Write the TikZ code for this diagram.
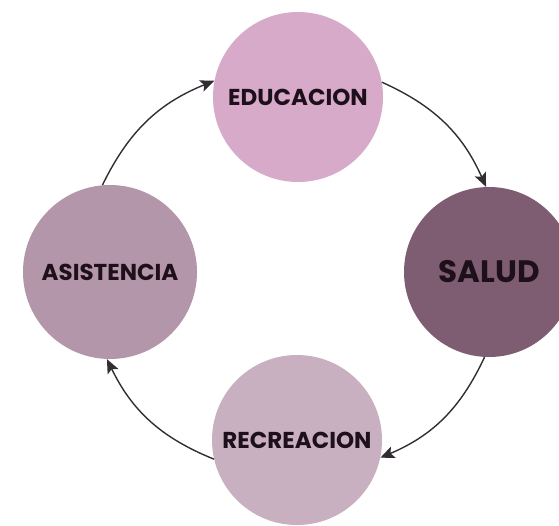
\documentclass[tikz,border=0pt]{standalone}
\usepackage{fontspec}
\setmainfont{Poppins}
\usetikzlibrary{arrows.meta}
\definecolor{cEdu}{RGB}{214,170,200}
\definecolor{cSal}{RGB}{126,92,114}
\definecolor{cAsi}{RGB}{180,150,170}
\definecolor{cRec}{RGB}{200,176,192}
\definecolor{cTxt}{RGB}{30,16,26}
\definecolor{cLine}{RGB}{50,45,50}
\tikzset{
  blob/.style={circle, draw=none, minimum size=170pt, inner sep=0pt,
    text=cTxt, font=\bfseries\fontsize{23}{26}\selectfont},
  arr/.style={draw=cLine, line width=1.4pt,
    -{Stealth[length=14pt,width=12pt,inset=3pt]}, bend left=21}
}
\begin{document}
\begin{tikzpicture}[x=1pt,y=1pt]
\useasboundingbox (0,0) rectangle (559,-525);
\clip (0,0) rectangle (559,-525);
\node[blob, fill=cEdu] (edu) at (298,-97) {EDUCACION};
\node[blob, fill=cSal, font=\bfseries\fontsize{31}{34}\selectfont] (sal) at (489,-272) {SALUD};
\node[blob, fill=cRec] (rec) at (297,-440) {RECREACION};
\node[blob, fill=cAsi, minimum size=174pt] (asi) at (110,-272) {ASISTENCIA};
\draw[arr] (asi.95) to (edu.169);
\draw[arr] (edu.10) to (sal.92);
\draw[arr] (sal.267) to (rec.348);
\draw[arr] (rec.193) to (asi.268);
\end{tikzpicture}
\end{document}
